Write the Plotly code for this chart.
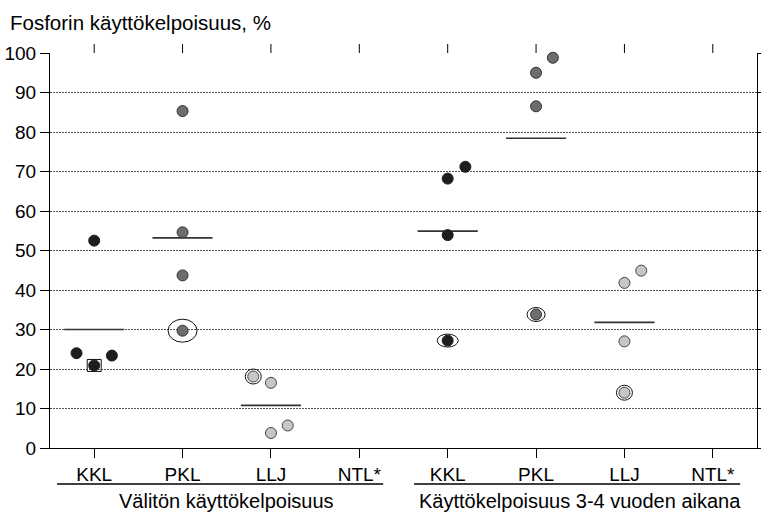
import plotly.graph_objects as go

# ---------------- data ----------------
categories = ["KKL", "PKL", "LLJ", "NTL*"]
group_labels = ["Välitön käyttökelpoisuus", "Käyttökelpoisuus 3-4 vuoden aikana"]
y_title = "Fosforin käyttökelpoisuus, %"
y_ticks = [0, 10, 20, 30, 40, 50, 60, 70, 80, 90, 100]

# Välitön käyttökelpoisuus (%)
valiton_kkl = [52.5, 24.0, 20.9, 23.4]
valiton_pkl = [85.3, 54.6, 43.7, 29.7]
valiton_llj = [18.1, 16.5, 3.8, 5.7]
valiton_ntl = []
valiton_means = [30.0, 53.2, 10.8, None]

# Käyttökelpoisuus 3-4 vuoden aikana (%)
pitka_kkl = [71.2, 68.2, 53.9, 27.2]
pitka_pkl = [98.8, 95.0, 86.5, 33.8]
pitka_llj = [44.9, 41.8, 27.0, 14.0]
pitka_ntl = []
pitka_means = [54.9, 78.4, 31.8, None]

# ---------------- layout / style ----------------
series = [
    [valiton_kkl, valiton_pkl, valiton_llj, valiton_ntl],
    [pitka_kkl, pitka_pkl, pitka_llj, pitka_ntl],
]
means = [valiton_means, pitka_means]
# horizontal jitter of points (category units)
jitter = [
    [[0, -0.2, 0, 0.2], [0, 0, 0, 0], [-0.2, 0, 0, 0.19], []],
    [[0.2, 0, 0, 0], [0.19, 0, 0, 0], [0.19, 0, 0, 0], []],
]
fill_colors = ["#1e1e1e", "#6d6d6d", "#c6c6c6", "#999999"]
line_colors = ["#1e1e1e", "#333333", "#444444", "#444444"]
# highlighted points: (group, category, point index, shape, width px, height px)
highlights = [
    (0, 0, 2, "rect", 14, 12),
    (0, 1, 3, "circle", 29, 23),
    (0, 2, 0, "circle", 16, 15),
    (1, 0, 3, "circle", 21, 13),
    (1, 1, 3, "circle", 18, 14),
    (1, 2, 3, "circle", 16, 15),
]
mean_half_width = 0.34
FONT = "Liberation Sans, Arial, sans-serif"

fig = go.Figure()
n_cat = len(categories)
positions = []
labels = []
for g in range(len(series)):
    for c in range(n_cat):
        pos = g * n_cat + c
        positions.append(pos)
        labels.append(categories[c])
        vals = series[g][c]
        m = means[g][c]
        if m is not None:
            fig.add_trace(go.Scatter(
                x=[pos - mean_half_width, pos + mean_half_width], y=[m, m],
                mode="lines", line=dict(color="#333333", width=1.6),
                showlegend=False, hoverinfo="skip"))
        if vals:
            fig.add_trace(go.Scatter(
                x=[pos + j for j in jitter[g][c]], y=vals, mode="markers",
                marker=dict(size=11, color=fill_colors[c],
                            line=dict(color=line_colors[c], width=1)),
                showlegend=False, cliponaxis=False))

shapes = []
for g, c, i, kind, w, h in highlights:
    pos = g * n_cat + c + jitter[g][c][i]
    val = series[g][c][i]
    shapes.append(dict(
        type=kind, xref="x", yref="y", xsizemode="pixel", ysizemode="pixel",
        xanchor=pos, yanchor=val, x0=-w / 2, x1=w / 2, y0=-h / 2, y1=h / 2,
        line=dict(color="#111111", width=1), fillcolor="rgba(0,0,0,0)"))

# top ticks
for pos in positions:
    shapes.append(dict(type="line", xref="x", yref="paper", ysizemode="pixel",
                       yanchor=1, x0=pos, x1=pos, y0=0, y1=9,
                       line=dict(color="black", width=1)))

# group underlines and labels
group_line_spans = [(-0.42, 3.27), (3.62, 7.31)]
annotations = []
for g, (a, b) in enumerate(group_line_spans):
    shapes.append(dict(type="line", xref="x", yref="paper", ysizemode="pixel",
                       yanchor=0, x0=a, x1=b, y0=-36, y1=-36,
                       line=dict(color="black", width=1.3)))
    annotations.append(dict(
        text=group_labels[g], xref="x", yref="paper",
        x=g * n_cat + (n_cat - 1) / 2, y=0, yshift=-53,
        xanchor="center", yanchor="middle", showarrow=False,
        font=dict(family=FONT, size=20, color="black")))

annotations.append(dict(
    text=y_title, xref="paper", yref="paper", x=0, y=1, xshift=-42, yshift=31,
    xanchor="left", yanchor="middle", showarrow=False,
    font=dict(family=FONT, size=20.5, color="black")))

fig.update_layout(
    width=761, height=512,
    margin=dict(l=50, r=4, t=53, b=64, pad=0, autoexpand=False),
    paper_bgcolor="white", plot_bgcolor="white",
    font=dict(family=FONT, size=19, color="black"),
    shapes=shapes, annotations=annotations,
    xaxis=dict(range=[-0.5, 2 * n_cat - 0.5], tickvals=positions, ticktext=labels,
               showgrid=False, zeroline=False, showline=True, linecolor="black",
               linewidth=1, ticks="outside", ticklen=9, tickcolor="black",
               automargin=False,
               tickfont=dict(family=FONT, size=19, color="black"), fixedrange=True),
    yaxis=dict(range=[0, 100], tickvals=y_ticks, showgrid=True,
               gridcolor="#555555", gridwidth=1, griddash="2px,1px",
               zeroline=False, showline=True, linecolor="black", linewidth=1,
               mirror="ticks", ticks="outside", ticklen=9, tickcolor="black",
               automargin=False,
               tickfont=dict(family=FONT, size=19, color="black"), fixedrange=True),
)

fig.write_html("out.html")
